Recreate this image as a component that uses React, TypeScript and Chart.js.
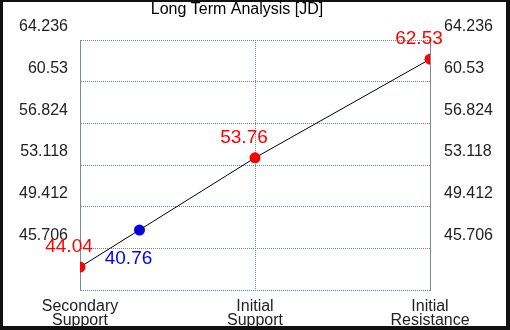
import React, { useEffect, useRef } from "react";
import { Chart, registerables } from "chart.js";

Chart.register(...registerables);

const titleText = "Long Term Analysis [JD]";
const categories: string[][] = [["Secondary", "Support"], ["Initial", "Support"], ["Initial", "Resistance"]];
const levelX = [0, 1, 2];
const levelValues = [44.04, 53.76, 62.53];
const levelLabels = ["44.04", "53.76", "62.53"];
const currentX = [0.34];
const currentY = [47.33];
const currentLabels = ["40.76"];
const yTicks = [42, 45.706, 49.412, 53.118, 56.824, 60.53, 64.236];
const yTickLabels = ["", "45.706", "49.412", "53.118", "56.824", "60.53", "64.236"];

const FONT = "'Liberation Sans', Arial, sans-serif";
const GRID = "rgb(112,132,162)";
const AXIS = "rgb(120,138,166)";

export default function App() {
  const ref = useRef<HTMLCanvasElement | null>(null);
  useEffect(() => {
    document.body.style.margin = "0";
    const canvas = ref.current!;

    const labelsPlugin = {
      id: "pointLabels",
      beforeDraw(chart: any) {
        const ctx = chart.ctx;
        ctx.save();
        ctx.fillStyle = "#fff";
        ctx.fillRect(0, 0, chart.width, chart.height);
        ctx.restore();
      },
      afterDatasetsDraw(chart: any) {
        const ctx = chart.ctx;
        ctx.save();
        ctx.font = `19px ${FONT}`;
        ctx.textAlign = "center";
        ctx.textBaseline = "middle";
        const m0 = chart.getDatasetMeta(0);
        m0.data.forEach((pt: any, i: number) => {
          ctx.fillStyle = "#ff0000";
          ctx.fillText(levelLabels[i], pt.x - 11, pt.y - 20);
        });
        const m1 = chart.getDatasetMeta(1);
        m1.data.forEach((pt: any, i: number) => {
          ctx.fillStyle = "#0000ff";
          ctx.fillText(currentLabels[i], pt.x - 11, pt.y + 29);
        });
        ctx.restore();
      },
      afterDraw(chart: any) {
        const ctx = chart.ctx;
        ctx.save();
        ctx.fillStyle = "#000";
        ctx.font = `16px ${FONT}`;
        ctx.textAlign = "center";
        ctx.textBaseline = "middle";
        ctx.fillText(titleText, 237, 10);
        ctx.fillStyle = "#111";
        ctx.fillRect(0, 0, 510, 2);
        ctx.fillRect(0, 0, 3, 330);
        ctx.fillRect(506, 0, 4, 330);
        ctx.fillRect(0, 326, 510, 4);
        ctx.restore();
      },
    };

    const chart = new Chart(canvas, {
      type: "scatter",
      data: {
        datasets: [
          {
            data: levelX.map((x, i) => ({ x, y: levelValues[i] })),
            showLine: true,
            borderColor: "#000",
            borderWidth: 1,
            pointRadius: 5.5,
            pointBackgroundColor: "#ff0000",
            pointBorderColor: "#ff0000",
            pointBorderWidth: 0,
          },
          {
            data: currentX.map((x, i) => ({ x, y: currentY[i] })),
            showLine: false,
            pointRadius: 5.5,
            pointBackgroundColor: "#0000ff",
            pointBorderColor: "#0000ff",
            pointBorderWidth: 0,
          },
        ],
      },
      options: {
        responsive: false,
        animation: false,
        layout: { padding: { top: 40, left: 0, right: 0, bottom: 0 } },
        plugins: { legend: { display: false }, tooltip: { enabled: false }, title: { display: false } },
        scales: {
          x: {
            type: "linear",
            min: 0,
            max: 2,
            afterBuildTicks: (scale: any) => {
              scale.ticks = levelX.map((v) => ({ value: v }));
            },
            afterFit: (scale: any) => {
              scale.height = 40;
            },
            ticks: {
              padding: 10,
              maxRotation: 0,
              color: "#222",
              font: { family: FONT, size: 16, lineHeight: "14px" },
              callback: (_v: any, i: number) => categories[i],
            },
            grid: {
              display: true,
              drawTicks: false,
              color: (c: any) => (c.index === 0 || c.index === levelX.length - 1 ? "rgba(0,0,0,0)" : GRID),
            },
            border: { display: false, dash: [1, 1] },
          },
          y: {
            type: "linear",
            position: "left",
            min: 42,
            max: 64.236,
            afterBuildTicks: (scale: any) => {
              scale.ticks = yTicks.map((v) => ({ value: v }));
            },
            afterFit: (scale: any) => {
              scale.width = 80;
            },
            ticks: {
              padding: 12,
              labelOffset: -13,
              color: "#222",
              font: { family: FONT, size: 16 },
              callback: (_v: any, i: number) => yTickLabels[i],
            },
            grid: { display: true, drawTicks: false, color: GRID },
            border: { display: true, color: AXIS, width: 1, dash: [1, 1] },
          },
          y2: {
            type: "linear",
            position: "right",
            min: 42,
            max: 64.236,
            afterBuildTicks: (scale: any) => {
              scale.ticks = yTicks.map((v) => ({ value: v }));
            },
            afterFit: (scale: any) => {
              scale.width = 80;
            },
            ticks: {
              padding: 6,
              labelOffset: -13,
              color: "#222",
              font: { family: FONT, size: 16 },
              callback: (_v: any, i: number) => yTickLabels[i],
            },
            grid: { display: false },
            border: { display: true, color: AXIS, width: 1 },
          },
        },
      },
      plugins: [labelsPlugin],
    } as any);
    return () => chart.destroy();
  }, []);
  return <canvas ref={ref} width={510} height={330} style={{ display: "block" }} />;
}
